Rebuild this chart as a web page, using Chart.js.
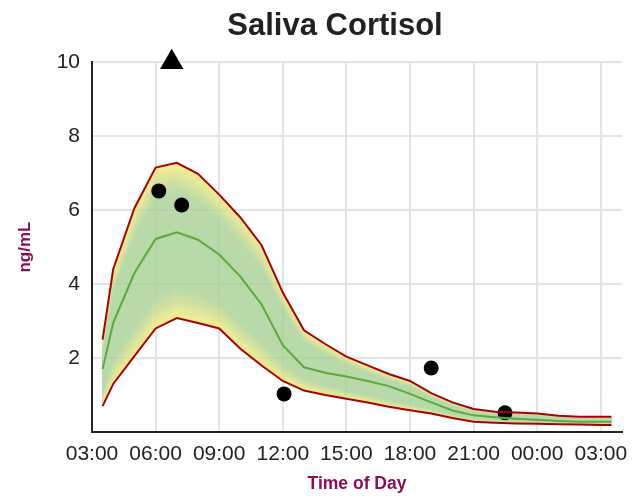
<!DOCTYPE html>
<html>
<head>
<meta charset="utf-8">
<script src="https://cdn.jsdelivr.net/npm/chart.js@4.4.0/dist/chart.umd.min.js"></script>
<style>
  html, body { margin: 0; padding: 0; background: #fff; }
</style>
</head>
<body>
<canvas id="cortisol" width="640" height="501"></canvas>
<script>
// reference curve, hours since midnight of day 1 (24+ = next day)
let hours      = [3.5, 4, 5, 6, 7, 8, 9, 10, 11, 12, 13, 14, 15, 16, 17, 18, 19, 20, 21, 22, 23, 24, 25, 26, 27, 27.5];
let upperBound = [2.5, 4.4, 6.05, 7.15, 7.28, 6.98, 6.42, 5.8, 5.05, 3.77, 2.75, 2.38, 2.04, 1.8, 1.57, 1.38, 1.05, 0.8, 0.62, 0.55, 0.53, 0.5, 0.44, 0.41, 0.41, 0.41];
let meanLevel  = [1.7, 2.95, 4.3, 5.22, 5.4, 5.2, 4.8, 4.2, 3.45, 2.35, 1.75, 1.6, 1.5, 1.38, 1.24, 1.03, 0.8, 0.58, 0.45, 0.4, 0.36, 0.33, 0.3, 0.28, 0.28, 0.28];
let lowerBound = [0.7, 1.3, 2.05, 2.8, 3.08, 2.95, 2.8, 2.25, 1.8, 1.38, 1.12, 1.0, 0.9, 0.8, 0.68, 0.59, 0.5, 0.38, 0.28, 0.25, 0.23, 0.22, 0.21, 0.2, 0.19, 0.19];

// patient samples
let sampleHours  = [6.15, 7.23, 12.06, 19.0, 22.48];
let sampleValues = [6.52, 6.14, 1.03, 1.73, 0.52];

// wake marker
let wakeHours  = [6.76];
let wakeValues = [10];

let hourTicks  = [3, 6, 9, 12, 15, 18, 21, 24, 27];
let hourLabels = ['03:00', '06:00', '09:00', '12:00', '15:00', '18:00', '21:00', '00:00', '03:00'];
let levelTicks = [2, 4, 6, 8, 10];

function pairs(xs, ys) {
  return xs.map((x, i) => ({x: x, y: ys[i]}));
}

// yellow at the band edges, green in the middle, one pixel column at a time
const bandFill = {
  id: 'bandFill',
  beforeDatasetsDraw(chart) {
    let ctx = chart.ctx;
    let top = chart.getDatasetMeta(0).data;
    let bot = chart.getDatasetMeta(2).data;
    let seg = 0;
    ctx.save();
    for (let px = Math.floor(top[0].x); px < top[top.length - 1].x; px++) {
      let cx = px + 0.5;
      while (seg < top.length - 2 && cx > top[seg + 1].x) seg++;
      let t = (cx - top[seg].x) / (top[seg + 1].x - top[seg].x);
      t = Math.max(0, Math.min(1, t));
      let yU = top[seg].y + (top[seg + 1].y - top[seg].y) * t;
      let yL = bot[seg].y + (bot[seg + 1].y - bot[seg].y) * t;
      let g = ctx.createLinearGradient(0, yU, 0, yL);
      g.addColorStop(0, 'rgba(246, 234, 130, 0.85)');
      g.addColorStop(0.2, 'rgba(166, 208, 148, 0.8)');
      g.addColorStop(0.8, 'rgba(166, 208, 148, 0.8)');
      g.addColorStop(1, 'rgba(246, 234, 130, 0.85)');
      ctx.fillStyle = g;
      ctx.fillRect(px, yU, 1, yL - yU);
    }
    ctx.restore();
  }
};

let ctx = document.getElementById('cortisol').getContext('2d');

let cortisolChart = new Chart(ctx, {
  type: 'line',
  data: {
    datasets: [
      {
        label: 'Upper',
        data: pairs(hours, upperBound),
        borderColor: '#aa0000',
        borderWidth: 2,
        pointRadius: 0,
        tension: 0,
        fill: false
      },
      {
        label: 'Mean',
        data: pairs(hours, meanLevel),
        borderColor: '#5aaa3c',
        borderWidth: 2,
        pointRadius: 0,
        tension: 0,
        fill: false
      },
      {
        label: 'Lower',
        data: pairs(hours, lowerBound),
        borderColor: '#aa0000',
        borderWidth: 2,
        pointRadius: 0,
        tension: 0,
        fill: false
      },
      {
        label: 'Samples',
        data: pairs(sampleHours, sampleValues),
        showLine: false,
        pointRadius: 7.5,
        pointBackgroundColor: '#000',
        pointBorderWidth: 0,
        clip: false
      },
      {
        label: 'Wake',
        data: pairs(wakeHours, wakeValues),
        showLine: false,
        pointStyle: 'triangle',
        pointRadius: 13.5,
        pointBackgroundColor: '#000',
        pointBorderWidth: 0,
        clip: false
      }
    ]
  },
  options: {
    responsive: false,
    animation: false,
    layout: {
      // left padding shifts the title centre to the right
      padding: {left: 48, right: 18, top: 0, bottom: 0}
    },
    plugins: {
      legend: {display: false},
      tooltip: {enabled: false},
      title: {
        display: true,
        text: 'Saliva Cortisol',
        color: '#222',
        font: {family: 'Liberation Sans', size: 31, weight: 'bold'},
        padding: {top: 8, bottom: 17}
      }
    },
    scales: {
      x: {
        type: 'linear',
        min: 3,
        max: 28,
        afterBuildTicks: function(scale) {
          scale.ticks = hourTicks.map(v => ({value: v}));
        },
        afterFit: function(scale) {
          scale.height = 69;
        },
        ticks: {
          color: '#222',
          padding: 10,
          maxRotation: 0,
          font: {family: 'Liberation Sans', size: 21},
          callback: function(value) {
            return hourLabels[hourTicks.indexOf(value)];
          }
        },
        grid: {
          color: '#e4e4e4',
          lineWidth: 2,
          drawTicks: false
        },
        border: {color: '#222', width: 2},
        title: {
          display: true,
          text: 'Time of Day',
          color: '#8c0c55',
          font: {family: 'Liberation Sans', size: 17.5, weight: 'bold'},
          padding: {top: 0, bottom: 6}
        }
      },
      y: {
        min: 0,
        max: 10,
        afterBuildTicks: function(scale) {
          scale.ticks = levelTicks.map(v => ({value: v}));
        },
        afterFit: function(scale) {
          scale.width = 44;
        },
        ticks: {
          color: '#222',
          padding: 12,
          font: {family: 'Liberation Sans', size: 21}
        },
        grid: {
          color: '#e4e4e4',
          lineWidth: 2,
          drawTicks: false
        },
        border: {color: '#222', width: 2},
        title: {
          display: true,
          text: 'ng/mL',
          color: '#8c0c55',
          font: {family: 'Liberation Sans', size: 17, weight: 'bold'},
          padding: {top: -33, bottom: 0}
        }
      }
    }
  },
  plugins: [bandFill]
});
</script>
</body>
</html>
